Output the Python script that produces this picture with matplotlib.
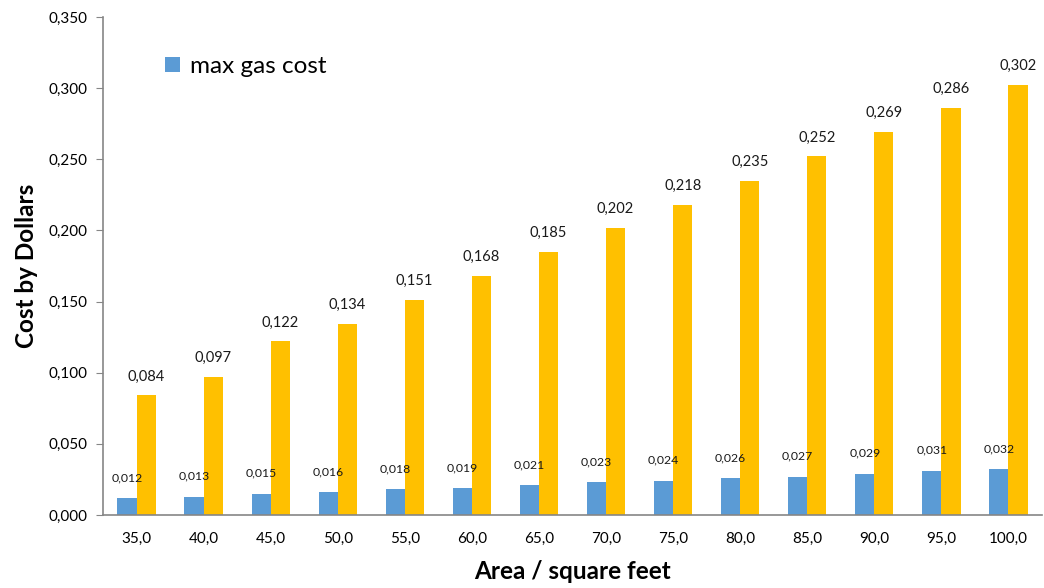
import matplotlib
matplotlib.use("Agg")
import matplotlib.pyplot as plt
import numpy as np

areas = [35.0, 40.0, 45.0, 50.0, 55.0, 60.0, 65.0, 70.0, 75.0, 80.0, 85.0, 90.0, 95.0, 100.0]
max_gas_cost = [0.012, 0.013, 0.015, 0.016, 0.018, 0.019, 0.021, 0.023, 0.024, 0.026, 0.027, 0.029, 0.031, 0.032]
other_cost = [0.084, 0.097, 0.122, 0.134, 0.151, 0.168, 0.185, 0.202, 0.218, 0.235, 0.252, 0.269, 0.286, 0.302]
y_ticks = [0.0, 0.05, 0.10, 0.15, 0.20, 0.25, 0.30, 0.35]

plt.rcParams['font.family'] = ['Lato', 'DejaVu Sans']

def comma(v, nd=3):
    return f"{v:.{nd}f}".replace('.', ',')

fig = plt.figure(figsize=(10.44, 5.88), dpi=100)
ax = fig.add_axes([103/1044, 1-515/588, (1042-103)/1044, (515-17)/588])

x = np.arange(len(areas))
w = 0.285
b1 = ax.bar(x - w/2, max_gas_cost, w, color='#5b9bd5', label='max gas cost')
b2 = ax.bar(x + w/2, other_cost, w, color='#ffc000')

for xi, v in zip(x, max_gas_cost):
    ax.annotate(comma(v), (xi - w/2, v), xytext=(0, 15), textcoords='offset pixels',
                ha='center', va='bottom', fontsize=8.8, color='#1a1a1a')
for xi, v in zip(x, other_cost):
    ax.annotate(comma(v), (xi + w/2, v), xytext=(0, 12), textcoords='offset pixels',
                ha='center', va='bottom', fontsize=10.5, color='#1a1a1a')

ax.set_xlim(-0.5, len(areas) - 0.5)
ax.set_ylim(0, 0.35)
ax.set_yticks(y_ticks)
ax.set_yticklabels([comma(t) for t in y_ticks], fontsize=11)
ax.set_xticks(x)
ax.set_xticklabels([comma(a, 1) for a in areas], fontsize=11)
ax.tick_params(axis='x', length=0, pad=12)
ax.tick_params(axis='y', length=5, color='#868686', pad=6)

for s in ['top', 'right']:
    ax.spines[s].set_visible(False)
for s in ['left', 'bottom']:
    ax.spines[s].set_color('#868686')
    ax.spines[s].set_linewidth(1.2)

ax.set_ylabel('Cost by Dollars', fontsize=17.5, fontweight='bold', labelpad=8)
ax.set_xlabel('Area / square feet', fontsize=17.5, fontweight='bold', labelpad=10)

ax.legend(handles=[b1], loc='upper left', bbox_to_anchor=(0.043, 0.965), frameon=False,
          fontsize=17.5, handlelength=0.6, handleheight=0.6, handletextpad=0.4)

fig.savefig('out.png', dpi=100)
